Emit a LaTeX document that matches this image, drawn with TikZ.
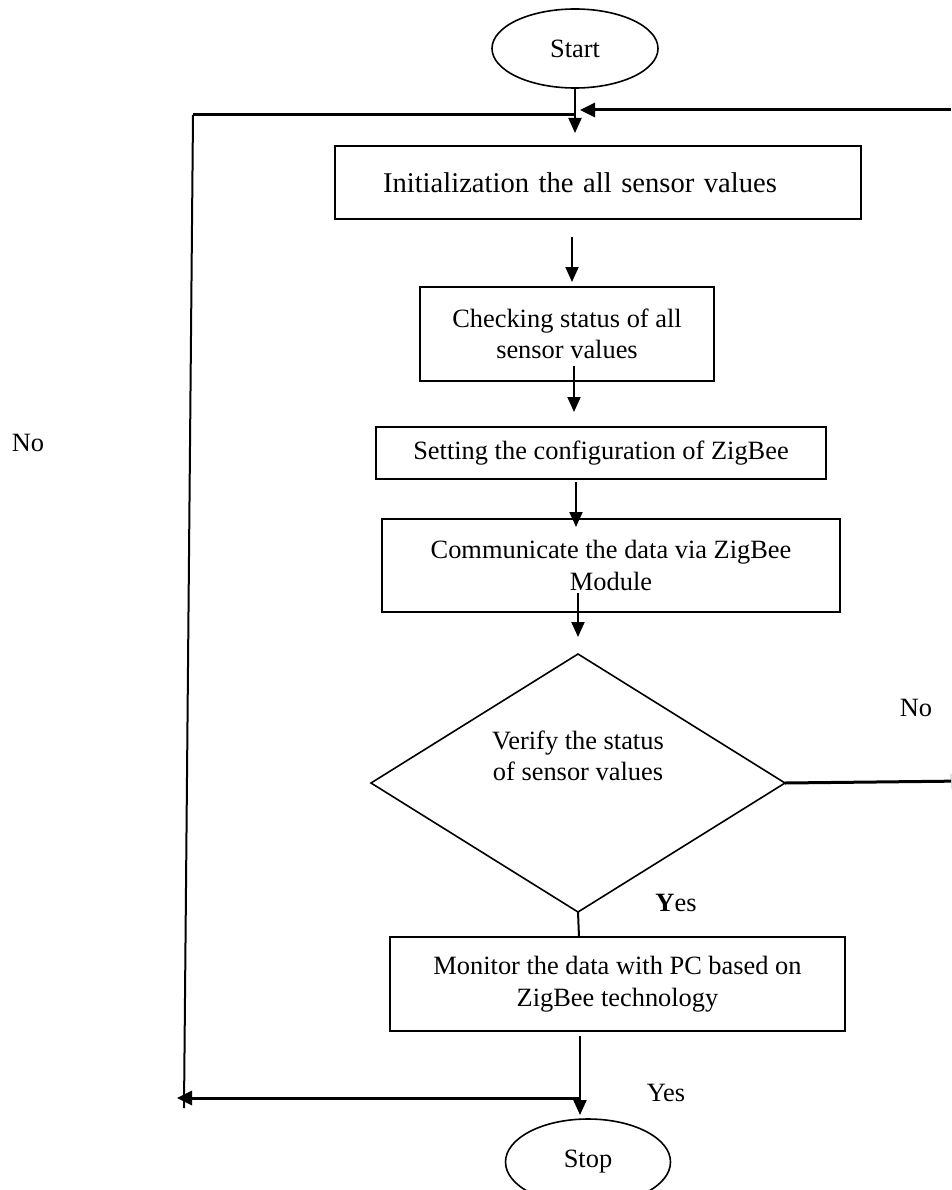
\documentclass[tikz,border=0pt]{standalone}
\usepackage{fontspec}
\setmainfont{Liberation Serif}
\usetikzlibrary{arrows.meta,shapes.geometric}
\tikzset{
  txt/.style={font=\fontsize{26.4}{31.5}\selectfont, inner sep=0pt},
  box/.style={draw, line width=1.6pt, rectangle, inner sep=0pt, outer sep=0pt, align=center, font=\fontsize{26.4}{31.5}\selectfont},
  term/.style={draw, line width=1.6pt, ellipse, inner sep=0pt, outer sep=0pt, font=\fontsize{26.4}{31.5}\selectfont},
  dec/.style={draw, line width=1.6pt, diamond, inner sep=0pt, outer sep=0pt},
  arr/.style={line width=2pt, -{Triangle[length=15pt,width=13pt]}},
  thickarr/.style={line width=3pt, -{Triangle[length=15pt,width=14pt]}},
  plain/.style={line width=2pt},
  thickline/.style={line width=3pt}
}
\begin{document}
\begin{tikzpicture}[x=1pt,y=-1pt]
\clip (0,0) rectangle (951,1190);
\fill[white] (0,0) rectangle (951,1190);

% nodes
\node[term, minimum width=166pt, minimum height=79pt] (start) at (575,48.5) {Start};
\node[box, minimum width=526pt, minimum height=73pt, text width=430pt, inner xsep=48pt, align=left,
      font=\fontsize{28.6}{33}\selectfont] (b1) at (598,182.5) {Initialization the all sensor values};
\node[box, minimum width=294pt, minimum height=94pt] (b2) at (567,334) {Checking status of all\\sensor values};
\node[box, minimum width=450pt, minimum height=52pt] (b3) at (601,453) {Setting the configuration of ZigBee};
\node[box, minimum width=458pt, minimum height=93pt] (b4) at (611,565.5) {Communicate the data via ZigBee\\Module};
\node[dec, minimum width=414pt, minimum height=258pt, aspect=1.6] (dia) at (578,783) {};
\node[txt, align=center] (diatext) at (578,756) {Verify the status\\of sensor values};
\node[box, minimum width=455pt, minimum height=94pt] (b5) at (617.5,984) {Monitor the data with PC based on\\ZigBee technology};
\node[term, minimum width=165pt, minimum height=86pt] (stop) at (588,1162) {Stop};

% labels
\node[txt] (noR) at (916,708) {No};
\node[txt] (noL) at (28,443) {No};
\node[txt] (yes1) at (676,903) {\textbf{Y}es};
\node[txt] (yes2) at (666,1093) {Yes};

% loop coordinates
\coordinate (tj) at (575,115);
\coordinate (lt) at (193,115);
\coordinate (lb) at (184,1108);
\coordinate (bj) at (580,1098);
\coordinate (bl) at (177,1098);
\coordinate (re) at (951,110);
\coordinate (rt) at (580,110);
\coordinate (nr) at (966,781);

% main flow
\draw[arr] (start.south) -- ([xshift=-23pt,yshift=13pt]b1.north);
\draw[arr] ([xshift=-26pt,yshift=-18pt]b1.south) -- ([xshift=5pt,yshift=5pt]b2.north);
\draw[arr] ([xshift=7pt,yshift=15pt]b2.south) -- ([xshift=-27pt,yshift=15pt]b3.north);
\draw[arr] ([xshift=-25pt,yshift=-3pt]b3.south) -- ([xshift=-35pt,yshift=-8pt]b4.north);
\draw[arr] ([xshift=-33pt,yshift=19pt]b4.south) -- ([yshift=17pt]dia.north);
\draw[plain] (dia.south) -- ([xshift=-38.5pt]b5.north);
\draw[arr] ([xshift=-37.5pt,yshift=-5pt]b5.south) -- ([xshift=-8pt,yshift=4pt]stop.north);

% No branch to the right
\draw[thickarr] (dia.east) -- (nr);

% return loops
\draw[thickarr] (re) -- (rt);
\draw[thickline] (lt) -- (tj);
\draw[plain] (lb) -- (lt);
\draw[thickarr] (bj) -- (bl);
\end{tikzpicture}
\end{document}
